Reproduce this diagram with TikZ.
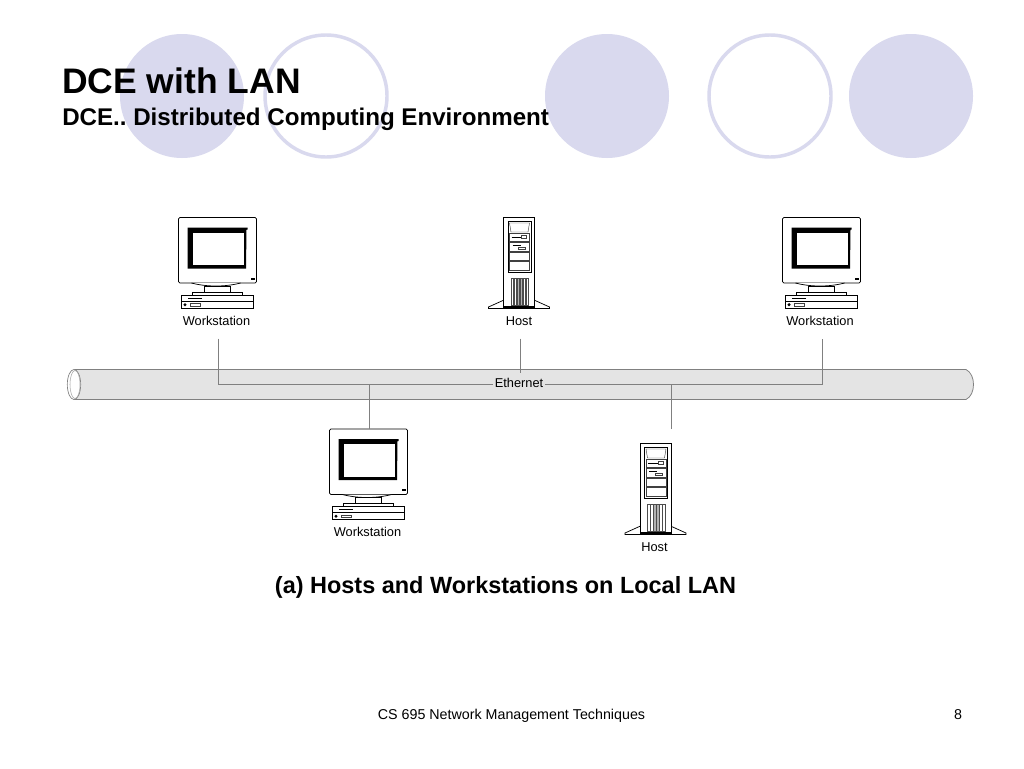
\documentclass[tikz,border=0pt]{standalone}
\usepackage{fontspec}
\setmainfont{Liberation Sans}
\frenchspacing
\definecolor{lilac}{HTML}{D9D9EE}
\definecolor{pipefill}{HTML}{E4E4E4}
\definecolor{pipeline}{HTML}{808080}
\definecolor{wire}{HTML}{808080}
\tikzset{
  disc/.style={fill=lilac,draw=none},
  ring/.style={fill=white,draw=lilac,line width=2.6pt},
  devline/.style={draw=black,line width=0.55pt,fill=white},
  thinline/.style={draw=black!75,line width=0.35pt},
  wirepath/.style={draw=wire,line width=0.55pt},
  devlabel/.style={font=\fontsize{9.6}{11}\selectfont,inner sep=0pt,anchor=base},
  workstation/.pic={
    \path[devline,rounded corners=1pt] (0,0) rectangle (78,65.5);
    \fill[black] (9,10) -- (69,10) -- (69,12) -- (68,12) -- (67.5,51) -- (9,51) -- cycle;
    \fill[white] (14,15) rectangle (65,47.5);
    \fill[black] (72.5,60) rectangle (76,62);
    \path[devline] (13,65.5) .. controls (28,69.5) and (47,69.5) .. (62,65.5);
    \path[devline] (26,68.5) rectangle (51.5,74.5);
    \path[devline] (13.5,74.5) rectangle (64,77.5);
    \path[devline] (3.2,77.5) rectangle (74.8,90.5);
    \draw[black,line width=0.5pt] (3.2,83.5) -- (74.8,83.5);
    \fill[black] (9,80.2) rectangle (23.5,81.4);
    \fill[black] (6.5,87.2) circle (1.7);
    \draw[thinline] (12,86) rectangle (22,88.5);
  },
  hostbox/.pic={
    \path[devline] (0.5,82.5) -- (-15,89.5) -- (-15,91) -- (46,91) -- (46,89.5) -- (30.5,82.5) -- cycle;
    \path[devline] (0,0) rectangle (31,91);
    \draw[black,line width=0.75pt,fill=white] (4.5,4) rectangle (27.5,54.5);
    \draw[thinline] (6,5.5) -- (26,5.5) -- (24.5,14.5) -- (7.5,14.5) -- cycle;
    \draw[thinline] (6,15.5) rectangle (26,23.5);
    \draw[thinline] (6,24.5) rectangle (26,33.5);
    \draw[thinline] (6,34.5) rectangle (26,43);
    \draw[thinline] (6,44) rectangle (26,52.5);
    \draw[black,line width=0.5pt] (8,19.5) -- (18,19.5);
    \draw[thinline] (18,18) rectangle (23,21);
    \draw[black,line width=0.5pt] (9,28) -- (17,28);
    \draw[thinline] (15,29.5) rectangle (22,32);
    \fill[black!30] (13,60.5) rectangle (19,87.5);
    \foreach \bx in {7.5,10.5,13.5,16.5,19.5,22.5}{
      \draw[black!70,line width=0.3pt] (\bx,60.5) rectangle ++(2.4,27);
    }
    \fill[black] (0,88) rectangle (31,90);
  }
}
\begin{document}
\begin{tikzpicture}[x=0.75pt,y=-0.75pt]
\useasboundingbox (0,0) rectangle (1024,768);
\fill[white] (0,0) rectangle (1024,768);
% decorative circles
\path[disc] (182,96) circle (62);
\path[ring] (326,96) circle (61);
\path[disc] (607,96) circle (62);
\path[ring] (770,96) circle (61);
\path[disc] (911,96) circle (62);
% title
\node[anchor=base west,inner sep=0pt,font=\fontsize{26.6}{30}\selectfont\bfseries] (title) at (62,93) {DCE with LAN};
\node[anchor=base west,inner sep=0pt,font=\fontsize{18.1}{21}\selectfont\bfseries] (subtitle) at (62,125) {DCE.. Distributed Computing Environment};
% pipe
\path[fill=pipefill,draw=pipeline,line width=0.55pt]
  (74,369.5) -- (966,369.5) .. controls (971,372) and (973.5,378) .. (973.5,384.5)
  .. controls (973.5,391) and (971,397) .. (966,399.5) -- (74,399.5) -- cycle;
\path[fill=white,draw=pipeline,line width=0.5pt] (74,384.5) ellipse (6.7 and 15);
\draw[pipeline!70,line width=0.4pt] (75,384.5) ellipse (5 and 14);
% devices
\pic at (178.5,217.5) {workstation};
\pic at (503.5,217.5) {hostbox};
\pic at (782.5,217.5) {workstation};
\pic at (329.5,429) {workstation};
\pic at (640,443.5) {hostbox};
% labels
\node[devlabel] (wsa) at (216.5,325) {Workstation};
\node[devlabel] (hosta) at (519,325) {Host};
\node[devlabel] (wsb) at (820,325) {Workstation};
\node[devlabel] (wsc) at (367.5,536.5) {Workstation};
\node[devlabel] (hostb) at (654.5,551.5) {Host};
% connector ends
\coordinate (wsaend) at (218.5,338.5);
\coordinate (hostaend) at (520.5,338.5);
\coordinate (wsbend) at (822.5,338.5);
\coordinate (wscend) at (369.5,429);
\coordinate (hostbend) at (671.5,429);
\coordinate (busleft) at (218.5,384);
\coordinate (busright) at (822.5,384);
\coordinate (hostatap) at (520.5,373);
\coordinate (wsctap) at (369.5,384);
\coordinate (hostbtap) at (671.5,384);
\draw[wirepath] (wsaend) -- (busleft) -- (busright) -- (wsbend);
\draw[wirepath] (hostaend) -- (hostatap);
\draw[wirepath] (wscend) -- (wsctap);
\draw[wirepath] (hostbend) -- (hostbtap);
\node[devlabel,fill=pipefill,inner xsep=1.5pt,inner ysep=1pt] (eth) at (519,387) {Ethernet};
% caption and footer
\node[anchor=base,inner sep=0pt,font=\fontsize{17.6}{20}\selectfont\bfseries] (caption) at (505.5,593) {(a) Hosts and Workstations on Local LAN};
\node[anchor=base,inner sep=0pt,font=\fontsize{10.7}{12}\selectfont] (footer) at (511.5,719) {CS 695 Network Management Techniques};
\node[anchor=base,inner sep=0pt,font=\fontsize{10.7}{12}\selectfont] (pageno) at (958,719) {8};
\end{tikzpicture}
\end{document}
